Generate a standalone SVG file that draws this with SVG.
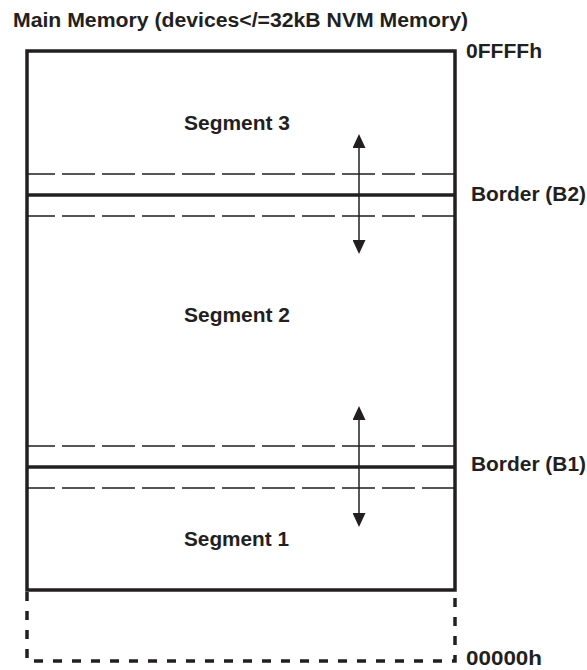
<svg xmlns="http://www.w3.org/2000/svg" width="587" height="670" viewBox="0 0 587 670">
<style>
text{font-family:"Liberation Sans",Arial,sans-serif;font-weight:bold;font-size:20px;fill:#231f20}
.thick{stroke:#231f20;stroke-width:3.5;fill:none}
.dash{stroke:#231f20;stroke-width:1.5;stroke-dasharray:33 7;stroke-dashoffset:6;fill:none}
.bdash{stroke:#231f20;stroke-width:3.5;stroke-dasharray:9 10;fill:none}
.arr{stroke:#231f20;stroke-width:1.5;marker-start:url(#ah);marker-end:url(#ah)}
</style>
<defs>
<marker id="ah" viewBox="0 0 14 13" refX="12" refY="6.5" markerWidth="14" markerHeight="13" markerUnits="userSpaceOnUse" orient="auto-start-reverse">
<path d="M0,0 L14,6.5 L0,13 Z" fill="#231f20"/>
</marker>
</defs>
<text x="13" y="27" textLength="455" lengthAdjust="spacingAndGlyphs">Main Memory (devices&lt;/=32kB NVM Memory)</text>
<g id="memory">
<path class="thick" d="M27,590 V51 H455 V590 Z"/>
<path class="bdash" d="M27,592 V661 H455 V592"/>
</g>
<g id="segment3"><text x="184" y="130" textLength="106" lengthAdjust="spacingAndGlyphs">Segment 3</text></g>
<g id="segment2"><text x="184" y="322" textLength="106" lengthAdjust="spacingAndGlyphs">Segment 2</text></g>
<g id="segment1"><text x="184" y="546" textLength="105" lengthAdjust="spacingAndGlyphs">Segment 1</text></g>
<g id="borderB2">
<line class="dash" x1="28" y1="174" x2="454" y2="174"/>
<line class="thick" x1="27" y1="195" x2="455" y2="195"/>
<line class="dash" x1="28" y1="216" x2="454" y2="216"/>
<text x="471" y="201" textLength="115" lengthAdjust="spacingAndGlyphs">Border (B2)</text>
</g>
<g id="borderB1">
<line class="dash" x1="28" y1="446" x2="454" y2="446"/>
<line class="thick" x1="27" y1="467" x2="455" y2="467"/>
<line class="dash" x1="28" y1="488" x2="454" y2="488"/>
<text x="471" y="471" textLength="115" lengthAdjust="spacingAndGlyphs">Border (B1)</text>
</g>
<g id="labels">
<text x="466" y="58" textLength="76" lengthAdjust="spacingAndGlyphs">0FFFFh</text>
<text x="466" y="665" textLength="76" lengthAdjust="spacingAndGlyphs">00000h</text>
</g>
<g id="connectors">
<line class="arr" x1="359" y1="136" x2="359" y2="252"/>
<line class="arr" x1="359" y1="408" x2="359" y2="525"/>
</g>
</svg>
